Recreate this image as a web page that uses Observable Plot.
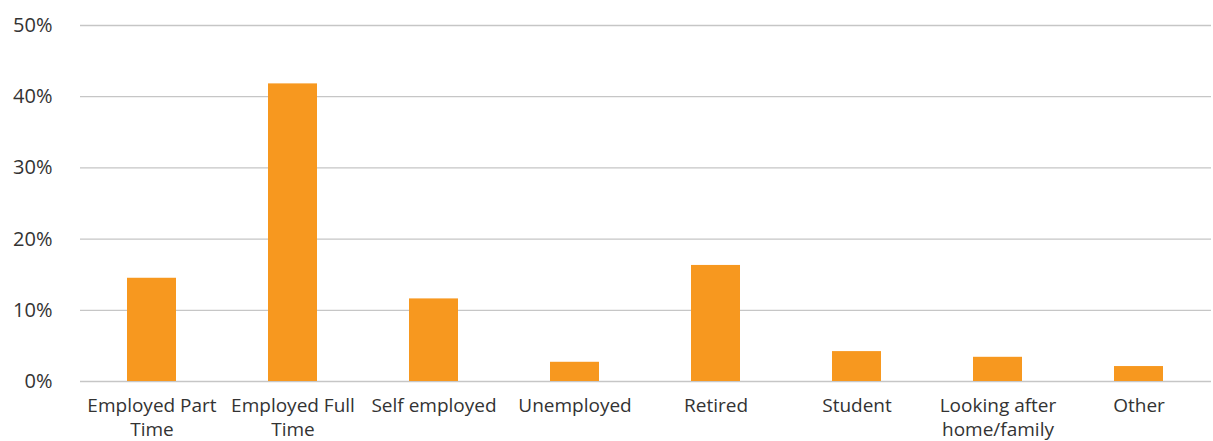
<!DOCTYPE html>
<html>
<head>
<meta charset="utf-8">
<script src="https://cdn.jsdelivr.net/npm/d3@7"></script>
<script src="https://cdn.jsdelivr.net/npm/@observablehq/plot@0.6"></script>
<style>
  html, body { margin: 0; padding: 0; background: #fff; }
  #chart svg { display: block; }
</style>
</head>
<body>
<div id="chart"></div>
<script>
const categories = ["Employed Part Time", "Employed Full Time", "Self employed", "Unemployed", "Retired", "Student", "Looking after home/family", "Other"];
const tickLabels = ["Employed Part\nTime", "Employed Full\nTime", "Self employed", "Unemployed", "Retired", "Student", "Looking after\nhome/family", "Other"];
const values = [14.5, 41.8, 11.6, 2.7, 16.3, 4.2, 3.4, 2.1];
const yTicks = [0, 10, 20, 30, 40, 50];

const data = categories.map((c, i) => ({category: c, value: values[i]}));
const labelOf = new Map(categories.map((c, i) => [c, tickLabels[i]]));

const chart = Plot.plot({
  width: 1213,
  height: 441,
  marginLeft: 80,
  marginRight: 2,
  marginTop: 25,
  marginBottom: 60,
  style: {fontFamily: "'Open Sans', 'Noto Sans', sans-serif", fontSize: "18px", color: "#333", background: "#fff"},
  x: {domain: categories, paddingInner: 0.65, paddingOuter: 0.325, label: null},
  y: {domain: [0, 50], label: null},
  marks: [
    Plot.gridY(yTicks, {stroke: "#c6c6c6", strokeOpacity: 1, strokeWidth: 1.3}),
    Plot.barY(data, {x: "category", y: "value", fill: "#F7981F"}),
    Plot.axisY(yTicks, {tickSize: 0, tickPadding: 28, tickFormat: d => d + "%", fontSize: 20, fill: "#333"}),
    Plot.axisX({tickSize: 0, tickPadding: 13, tickFormat: d => labelOf.get(d), lineHeight: 1.27, fontSize: 19, fill: "#333"})
  ]
});
document.getElementById("chart").appendChild(chart);
</script>
</body>
</html>
